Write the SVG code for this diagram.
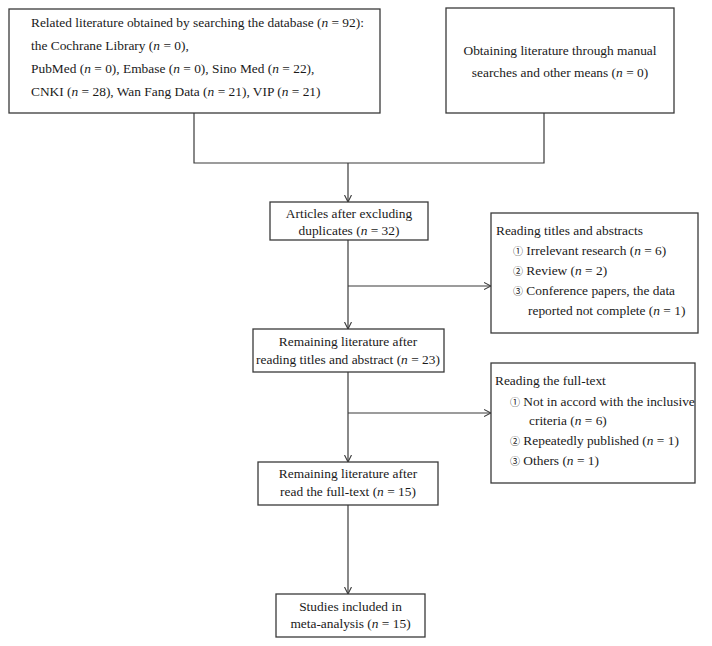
<svg xmlns="http://www.w3.org/2000/svg" width="712" height="646" viewBox="0 0 712 646">
<style>
.box{fill:#fff;stroke:#3a3a3a;stroke-width:1.3}
.t{font-family:"Liberation Serif","Noto Sans CJK SC",serif;font-size:13.4px;fill:#1a1a1a}
.c{text-anchor:middle}
.ci{font-size:10px}
.conn{fill:none;stroke:#3a3a3a;stroke-width:1.2}
</style>
<defs>
<marker id="arr" viewBox="0 0 8 8" refX="7.5" refY="4" markerWidth="8" markerHeight="8" markerUnits="userSpaceOnUse" orient="auto">
<path d="M0.5,0.5 L7.5,4 L0.5,7.5" fill="none" stroke="#3a3a3a" stroke-width="1.1"/>
</marker>
</defs>
<rect width="712" height="646" fill="#fff"/>
<g id="connectors">
<path class="conn" d="M194,113 V163 H544 V113"/>
<path class="conn" d="M348,163 V202" marker-end="url(#arr)"/>
<path class="conn" d="M348,240 V329" marker-end="url(#arr)"/>
<path class="conn" d="M348,286 H491" marker-end="url(#arr)"/>
<path class="conn" d="M348,372 V462" marker-end="url(#arr)"/>
<path class="conn" d="M348,413 H491" marker-end="url(#arr)"/>
<path class="conn" d="M348,505 V594" marker-end="url(#arr)"/>
</g>
<g id="node-database">
<rect class="box" x="9" y="9" width="371" height="104"/>
<text class="t" x="31" y="27">Related literature obtained by searching the database (<tspan font-style="italic">n</tspan> = 92):</text>
<text class="t" x="31" y="50">the Cochrane Library (<tspan font-style="italic">n</tspan> = 0),</text>
<text class="t" x="31" y="73">PubMed (<tspan font-style="italic">n</tspan> = 0), Embase (<tspan font-style="italic">n</tspan> = 0), Sino Med (<tspan font-style="italic">n</tspan> = 22),</text>
<text class="t" x="31" y="96">CNKI (<tspan font-style="italic">n</tspan> = 28), Wan Fang Data (<tspan font-style="italic">n</tspan> = 21), VIP (<tspan font-style="italic">n</tspan> = 21)</text>
</g>
<g id="node-manual">
<rect class="box" x="446" y="8" width="228" height="105"/>
<text class="t c" x="560" y="55">Obtaining literature through manual</text>
<text class="t c" x="560" y="77">searches and other means (<tspan font-style="italic">n</tspan> = 0)</text>
</g>
<g id="node-articles">
<rect class="box" x="270" y="202" width="158" height="38"/>
<text class="t c" x="349" y="218">Articles after excluding</text>
<text class="t c" x="349" y="235">duplicates (<tspan font-style="italic">n</tspan> = 32)</text>
</g>
<g id="node-excl1">
<rect class="box" x="491" y="213" width="207" height="120"/>
<text class="t" x="496" y="235">Reading titles and abstracts</text>
<text class="t" x="513" y="255"><tspan class="ci">①</tspan> Irrelevant research (<tspan font-style="italic">n</tspan> = 6)</text>
<text class="t" x="513" y="275"><tspan class="ci">②</tspan> Review (<tspan font-style="italic">n</tspan> = 2)</text>
<text class="t" x="513" y="295"><tspan class="ci">③</tspan> Conference papers, the data</text>
<text class="t" x="528" y="315">reported not complete (<tspan font-style="italic">n</tspan> = 1)</text>
</g>
<g id="node-remaining1">
<rect class="box" x="253" y="329" width="191" height="43"/>
<text class="t c" x="348" y="346">Remaining literature after</text>
<text class="t c" x="348" y="364">reading titles and abstract (<tspan font-style="italic">n</tspan> = 23)</text>
</g>
<g id="node-excl2">
<rect class="box" x="491" y="363" width="204" height="120"/>
<text class="t" x="495" y="385">Reading the full-text</text>
<text class="t" x="510" y="406"><tspan class="ci">①</tspan> Not in accord with the inclusive</text>
<text class="t" x="529" y="425">criteria (<tspan font-style="italic">n</tspan> = 6)</text>
<text class="t" x="510" y="445"><tspan class="ci">②</tspan> Repeatedly published (<tspan font-style="italic">n</tspan> = 1)</text>
<text class="t" x="510" y="465"><tspan class="ci">③</tspan> Others (<tspan font-style="italic">n</tspan> = 1)</text>
</g>
<g id="node-remaining2">
<rect class="box" x="258" y="462" width="180" height="43"/>
<text class="t c" x="348" y="478">Remaining literature after</text>
<text class="t c" x="348" y="496">read the full-text (<tspan font-style="italic">n</tspan> = 15)</text>
</g>
<g id="node-included">
<rect class="box" x="276" y="594" width="149" height="43"/>
<text class="t c" x="350.5" y="611">Studies included in</text>
<text class="t c" x="350.5" y="628">meta-analysis (<tspan font-style="italic">n</tspan> = 15)</text>
</g>
</svg>
